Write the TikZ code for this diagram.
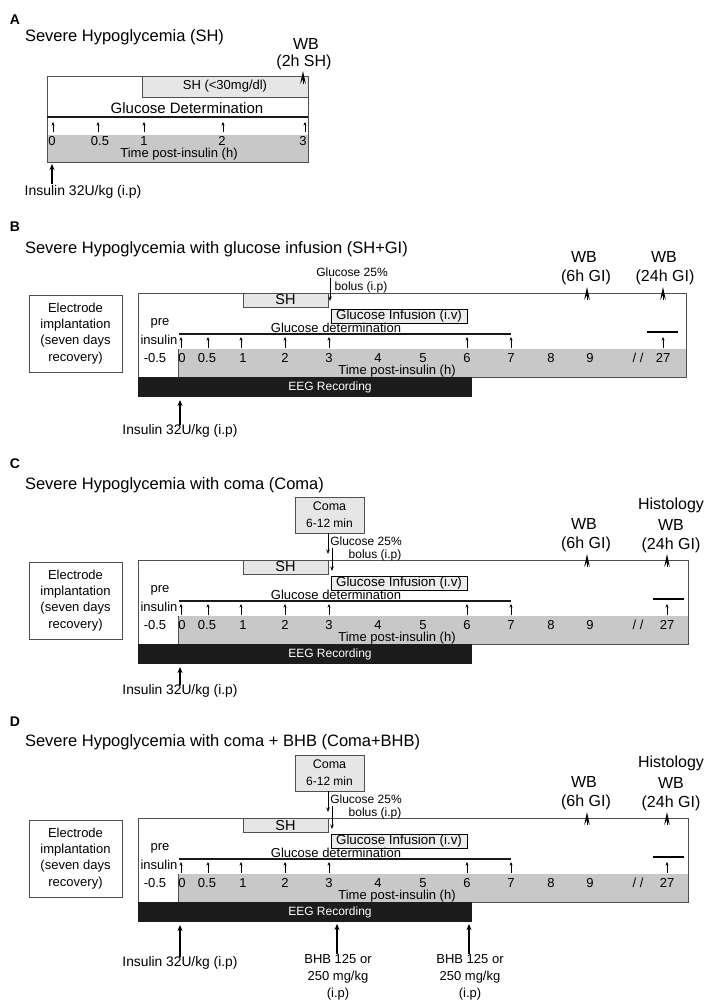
\documentclass[tikz,border=0pt]{standalone}
\usepackage{fontspec}
\setmainfont{Liberation Sans}
\usetikzlibrary{arrows.meta}
\newcommand{\fsz}[1]{\fontsize{#1}{#1}\selectfont}
\definecolor{gregion}{HTML}{C8C8C8}
\definecolor{lbox}{HTML}{E6E6E6}
\definecolor{eegc}{HTML}{1C1C1C}
\definecolor{framec}{HTML}{505050}
\tikzset{
  every node/.style={inner sep=0pt, outer sep=0pt},
  ttl/.style={font=\fsz{16.5}},
  wbt/.style={font=\fsz{16}},
  t13/.style={font=\fsz{13}},
  t12/.style={font=\fsz{12}},
  framel/.style={draw=framec, line width=0.7pt},
  shbox/.style={draw=framec, fill=lbox, line width=0.7pt, font=\fsz{14.5}},
  gibox/.style={draw=black, fill=lbox!70!white, line width=0.7pt, font=\fsz{13.4}},
  comabox/.style={draw=framec, fill=lbox, line width=0.7pt, font=\fsz{12.5}, align=center},
  ebox/.style={draw=framec, line width=0.7pt, font=\fontsize{13}{16.2}\selectfont, align=center},
  eegbar/.style={fill=eegc, text=white, font=\fsz{12}},
  gdline/.style={line width=2.3pt, draw=black!90},
  tickarr/.style={line width=0.7pt, -{Stealth[length=3.5pt,width=3pt]}},
  insarr/.style={line width=1.6pt, -{Stealth[length=6pt,width=5pt]}},
  bolarr/.style={line width=0.8pt, -{Stealth[length=4.5pt,width=3.5pt]}},
  pletter/.style={font=\bfseries\fsz{14}},
}
\newcommand{\wbmark}[2]{%
  \fill[black] (#1,#2) -- (#1+2.8,#2+13) -- (#1,#2+8) -- (#1-2.8,#2+13) -- cycle;
  \draw[line width=0.6pt] (#1,#2+4) -- (#1,#2+13);}
% #1 right border, #2 x of 27, #3 left end of 27 segment
\newcommand{\panelcore}[3]{%
  \fill[gregion] (178,349) rectangle (#1,377);
  \draw[framel] (138,293) rectangle (#1,377);
  \draw[framel] (178,349) -- (178,377);
  \node[eegbar, minimum width=334, minimum height=20, anchor=north west] (eeg) at (138,377) {};
  \node[eegbar] (eegt) at (330,387) {EEG Recording};
  \node[ebox, minimum width=93, minimum height=77] (elec) at (75.5,333.5) {Electrode\\implantation\\(seven days\\recovery)};
  \node[shbox, minimum width=85, minimum height=14, anchor=north west] (sh) at (243,293) {SH};
  \node[gibox, minimum width=136, minimum height=14, anchor=north west] (gi) at (331,309) {Glucose Infusion (i.v)};
  \node[t13] (gd) at (336,328) {Glucose determination};
  \draw[gdline] (179,334) -- (511,334);
  \draw[line width=1.3pt] (#3,332) -- (#3+31,332);
  \foreach \xx in {181,208,241,285,329,467,511,#2} \draw[tickarr] (\xx,348) -- (\xx,337);
  \foreach \xx/\tt [count=\i] in {155/-0.5,182/0,207/0.5,243/1,285/2,329/3,378/4,423/5,467/6,511/7,551/8,590/9,638/{/ /},#2/27}
    \node[t13] (tk\i) at (\xx,358) {\tt};
  \node[t13] (tp) at (397,371) {Time post-insulin (h)};
  \node[t13] (pre) at (160,323) {pre};
  \node[t13] (insl) at (159,340) {insulin};
  \node[wbt] (wb6) at (584,257) {WB};
  \node[wbt] (wb6b) at (586,277) {(6h GI)};
  \wbmark{587}{287}
  \wbmark{#2}{287}
}
% #1 y of insulin text (relative)
\newcommand{\insulin}[1]{%
  \node[font=\fsz{13.8}] (ins) at (180,#1) {Insulin 32U/kg (i.p)};
  \coordinate (ins0) at (180,400);
  \draw[insarr] (ins.north) -- (ins0);
}
\newcommand{\comaparts}{%
  \node[comabox, minimum width=69, minimum height=36, anchor=north west] (coma) at (295,230) {};
  \node[font=\fsz{12.5}] (comat) at (329.5,239) {Coma};
  \node[font=\fsz{12}] (comat2) at (329.5,256) {6-12 min};
  \coordinate (ca) at (328,287);
  \draw[bolarr] (coma.south -| ca) -- (ca);
  \coordinate (cb0) at (332,281);
  \coordinate (cb1) at (332,304);
  \draw[bolarr] (cb0) -- (cb1);
  \node[t12] (g25) at (366,274) {Glucose 25\%};
  \node[t12] (bol) at (375,288) {bolus (i.p)};
  \node[wbt] (hist) at (671,238) {Histology};
  \node[wbt] (wb24) at (671,258) {WB};
  \node[wbt] (wb24b) at (671,278) {(24h GI)};
}
\begin{document}
\begin{tikzpicture}[x=1pt,y=-1pt]
\useasboundingbox[fill=white] (0,0) rectangle (720,1000);
% ---------------- Panel A
\node[pletter] (la) at (15,20) {A};
\node[ttl, anchor=west] (ta) at (25,37) {Severe Hypoglycemia (SH)};
\node[wbt] (wba) at (306,44) {WB};
\node[wbt] (wba2) at (304,62) {(2h SH)};
\fill[gregion] (47,135) rectangle (308,162);
\draw[framel] (47,76) rectangle (308,162);
\node[shbox, font=\fsz{13}, minimum width=166, minimum height=21, anchor=north west] (sha) at (142,76) {SH (<30mg/dl)};
\wbmark{303}{71}
\node[font=\fsz{15}] (gda) at (187,108) {Glucose Determination};
\draw[gdline] (47,117) -- (308,117);
\foreach \xx in {53,98,144,223,305} \draw[tickarr] (\xx,132) -- (\xx,122);
\foreach \xx/\tt [count=\i] in {52/0,100/0.5,144/1,222/2,303/3}
  \node[t13] (atk\i) at (\xx,141) {\tt};
\node[t13] (tpa) at (179,154) {Time post-insulin (h)};
\node[font=\fsz{14}] (insa) at (83,192) {Insulin 32U/kg (i.p)};
\coordinate (insa0) at (52,184);
\coordinate (insa1) at (52,164);
\draw[insarr] (insa0) -- (insa1);
% ---------------- Panel B
\node[pletter] (lb) at (15,227) {B};
\node[ttl, anchor=west] (tb) at (25,249) {Severe Hypoglycemia with glucose infusion (SH+GI)};
\begin{scope}[name prefix=b-]
  \panelcore{686}{663}{647}
  \insulin{431}
  \node[wbt] (wb24) at (664,257) {WB};
  \node[wbt] (wb24b) at (665,277) {(24h GI)};
  \coordinate (ba0) at (330,278);
  \coordinate (ba1) at (330,301);
  \draw[bolarr] (ba0) -- (ba1);
  \node[t12] (g25) at (352,272) {Glucose 25\%};
  \node[t12] (bol) at (361,287) {bolus (i.p)};
\end{scope}
% ---------------- Panel C
\node[pletter] (lc) at (15,464) {C};
\node[ttl, anchor=west] (tc) at (25,485) {Severe Hypoglycemia with coma (Coma)};
\begin{scope}[yshift=-267pt, name prefix=c-]
  \panelcore{688}{667}{653}
  \insulin{424}
  \comaparts
\end{scope}
% ---------------- Panel D
\node[pletter] (ld) at (15,722) {D};
\node[ttl, anchor=west] (td) at (25,742) {Severe Hypoglycemia with coma + BHB (Coma+BHB)};
\begin{scope}[yshift=-525pt, name prefix=d-]
  \panelcore{688}{667}{653}
  \insulin{438}
  \comaparts
\end{scope}
\node[t13, align=center, font=\fontsize{13}{17}\selectfont] (bhb1) at (338,977) {BHB 125 or\\250 mg/kg\\(i.p)};
\node[t13, align=center, font=\fontsize{13}{17}\selectfont] (bhb2) at (470,977) {BHB 125 or\\250 mg/kg\\(i.p)};
\coordinate (bh1) at (337,924);
\coordinate (bh2) at (469,924);
\draw[insarr, line width=2pt] (bhb1.north -| bh1) -- (bh1);
\draw[insarr, line width=1.3pt] (bhb2.north -| bh2) -- (bh2);
\end{tikzpicture}
\end{document}
